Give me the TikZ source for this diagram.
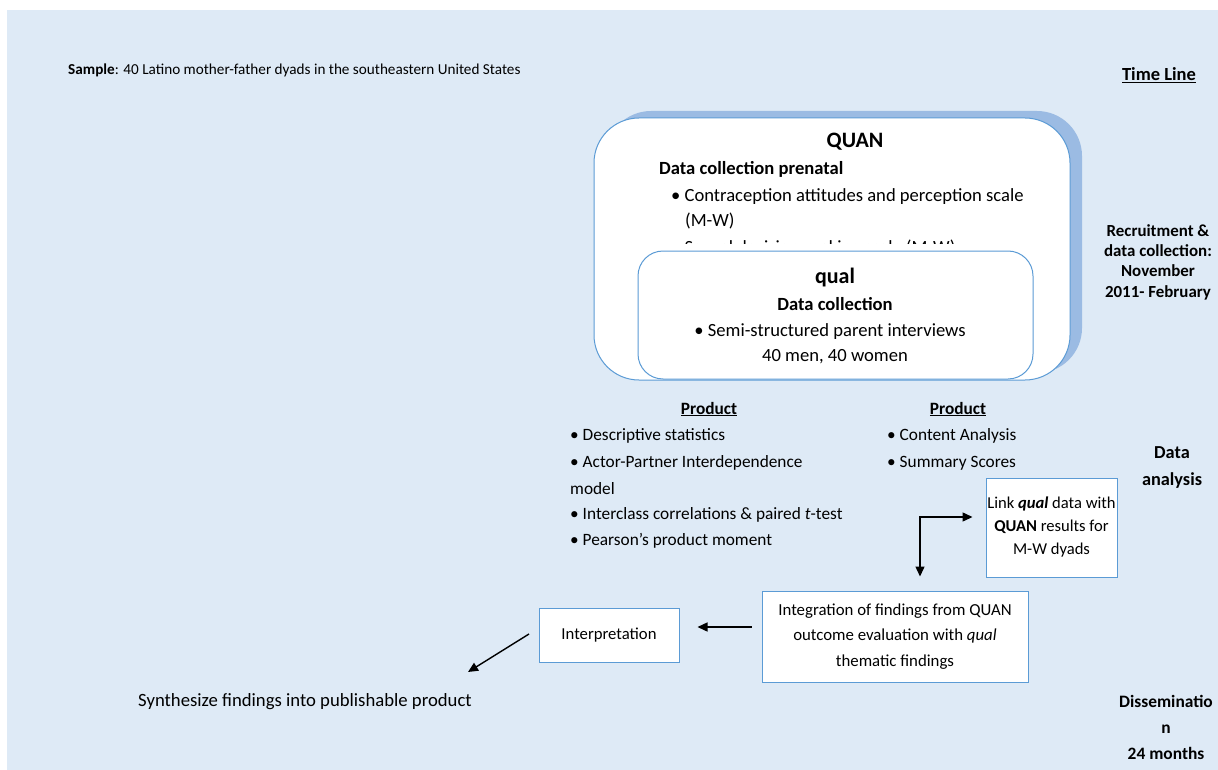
\documentclass[tikz,border=0pt]{standalone}
\usepackage{fontspec}
\setmainfont{Carlito}
\usetikzlibrary{arrows.meta}
\definecolor{bgblue}{HTML}{DEEAF6}
\definecolor{boxblue}{HTML}{5B9BD5}
\definecolor{shadowblue}{HTML}{9BBBE3}
\begin{document}
\begin{tikzpicture}[x=1pt,y=-1pt,
  every node/.style={font=\fontsize{17.3}{20}\selectfont, inner sep=0pt},
  txt/.style={anchor=base west},
  ctxt/.style={anchor=base},
  qtxt/.style={anchor=base west, font=\fontsize{18.6}{22}\selectfont},
  qctxt/.style={anchor=base, font=\fontsize{18.6}{22}\selectfont},
  qbtxt/.style={anchor=base, font=\fontsize{18.6}{22}\selectfont\bfseries},
  qbltxt/.style={anchor=base west, font=\fontsize{18.6}{22}\selectfont\bfseries},
  btxt/.style={anchor=base, font=\fontsize{17.3}{20}\selectfont\bfseries},
  titletxt/.style={anchor=base, font=\fontsize{22}{26}\selectfont\bfseries},
  sqbox/.style={draw=boxblue, line width=1pt, fill=white, align=center},
  roundbox/.style={draw=boxblue, line width=1pt, fill=white},
  timetxt/.style={align=center},
  arr/.style={line width=1.4pt, -{Triangle[length=10pt,width=9pt]}}
]
\fill[white] (0,0) rectangle (1218,770);
\useasboundingbox (0,0) rectangle (1218,770);
\fill[bgblue] (7,10) rectangle (1218,770);

% header
\node[txt, font=\fontsize{15.2}{18}\selectfont] (sample) at (68,75) {\textbf{Sample}: 40 Latino mother-father dyads in the southeastern United States};
\node[anchor=base, font=\fontsize{18.5}{22}\selectfont\bfseries] (timeline) at (1159,81) {\underline{Time Line}};

% QUAN box with shadow
\node[fill=shadowblue, rounded corners=45pt, minimum width=476, minimum height=262] (quanshadow) at (844,242) {};
\node[roundbox, rounded corners=45pt, minimum width=476, minimum height=262] (quan) at (832,249) {};
\node[titletxt] (quant) at (855,148) {QUAN};
\node[qbltxt] (dcp) at (659,175) {Data collection prenatal};
\node[qtxt] (b1) at (671,202) {• Contraception attitudes and perception scale};
\node[qtxt] (b1b) at (685,227) {(M-W)};
\begin{scope}
  \clip (594,100) rectangle (1070,243);
  \node[qtxt] (b2) at (671,253) {• Sexual decision-making scale (M-W)};
\end{scope}

% qual box
\node[roundbox, rounded corners=25pt, minimum width=395, minimum height=128] (qual) at (835.5,315) {};
\node[titletxt] (qualt) at (835,283) {qual};
\node[qbtxt] (dc) at (835,310) {Data collection};
\node[qctxt] (semi) at (830,336) {• Semi-structured parent interviews};
\node[qctxt] (men) at (835,361) {40 men, 40 women};

% time line labels
\node[timetxt, font=\fontsize{16.9}{20.3}\selectfont\bfseries] (recruit) at (1158,262) {Recruitment \&\\data collection:\\November\\2011- February};
\node[timetxt, font=\fontsize{18.3}{27}\selectfont\bfseries] (analysis) at (1172,467.5) {Data\\analysis};
\node[timetxt, font=\fontsize{17.4}{26}\selectfont\bfseries] (dissem) at (1166,727) {Disseminatio\\n\\24 months};

% products
\node[btxt] (prodL) at (709,414) {\underline{Product}};
\node[btxt] (prodR) at (958,414) {\underline{Product}};
\node[txt] (l1) at (570,440) {• Descriptive statistics};
\node[txt] (l2) at (570,467) {• Actor-Partner Interdependence};
\node[txt] (l3) at (570,494) {model};
\node[txt] (l4) at (570,519) {• Interclass correlations \& paired \textit{t}-test};
\node[txt] (l5) at (570,545) {• Pearson’s product moment};
\node[txt] (r1) at (887,440) {• Content Analysis};
\node[txt] (r2) at (887,467) {• Summary Scores};

% boxes
\node[sqbox, minimum width=131, minimum height=99, font=\fontsize{16.6}{23}\selectfont] (link) at (1051.5,527.5) {Link \textbf{\textit{qual}} data with\\\textbf{QUAN} results for\\M-W dyads};
\node[sqbox, minimum width=266, minimum height=91, font=\fontsize{16.8}{25.5}\selectfont] (integ) at (895,636.5) {Integration of findings from QUAN\\outcome evaluation with \textit{qual}\\thematic findings};
\node[sqbox, minimum width=140, minimum height=54, font=\fontsize{16.7}{20}\selectfont] (interp) at (609,635) {Interpretation};
\node[txt, font=\fontsize{18.7}{22}\selectfont] (synth) at (138,706) {Synthesize findings into publishable product};

% connectors
\coordinate (corner) at (920,517);
\draw[line width=1.4pt, {Triangle[length=10pt,width=9pt]}-{Triangle[length=10pt,width=9pt]}, shorten <=14pt, shorten >=13pt]
  (integ.north -| corner) -- (corner) -- (link.west |- corner);
\coordinate (ya) at (0,627);
\draw[arr, shorten <=10pt, shorten >=18pt] (integ.west |- ya) -- (interp.east |- ya);
\coordinate (dstart) at (529,634);
\coordinate (dend) at (468,672);
\draw[arr] (dstart) -- (dend);
\end{tikzpicture}
\end{document}
